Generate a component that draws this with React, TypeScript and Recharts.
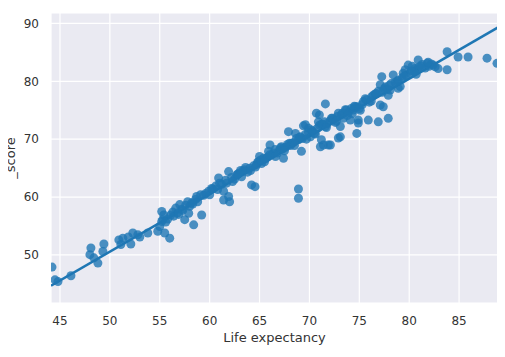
import React from 'react';
import { ComposedChart, Scatter, Line, XAxis, YAxis, CartesianGrid } from 'recharts';

const lifeExpectancy: number[] = [
  44.2, 44.5, 44.8, 46.1, 48.1, 48.0, 48.4, 48.8, 49.4, 49.3, 50.9, 51.3, 51.1, 52.1, 52.3, 52.8, 53.0, 51.85, 53.8, 54.8,
  55.0, 55.2, 55.3, 55.5, 55.4, 55.2, 56.0, 56.4, 57.0, 57.5, 57.9, 58.2, 58.4, 58.7, 59.2, 59.4, 59.9, 60.0, 60.9, 61.0,
  61.4, 61.4, 61.9, 62.0, 61.9, 61.7, 62.7, 63.2, 63.5, 64.2, 64.0, 64.7, 65.0, 64.55, 64.9, 65.4, 65.9, 66.05, 66.55, 67.2,
  67.4, 67.9, 68.2, 68.6, 68.9, 69.2, 69.6, 69.9, 68.9, 68.9, 70.1, 70.7, 71.1, 71.2, 71.9, 71.6, 71.6, 72.2, 73.1, 72.9,
  73.6, 74.1, 74.6, 74.75, 69.4, 71.0, 70.9, 71.4, 72.1, 72.9, 73.1, 73.7, 74.2, 74.9, 75.4, 76.25, 77.1, 77.9, 78.9, 79.4,
  80.6, 74.4, 74.9, 75.9, 76.4, 76.9, 77.25, 77.1, 77.4, 77.9, 78.1, 78.4, 78.9, 79.1, 79.6, 79.9, 80.9, 80.8, 81.8, 82.4,
  82.9, 83.8, 83.8, 84.9, 85.9, 87.8, 88.8,
  55.8, 56.3, 56.8, 57.2, 57.6, 58.0, 58.6, 59.6, 60.3, 60.6, 61.2, 62.2, 62.5, 62.9, 63.3, 63.8, 64.4, 64.8, 65.2, 65.6,
  65.8, 66.2, 66.4, 66.8, 67.0, 67.3, 67.6, 67.8, 68.1, 68.4, 68.7, 69.0, 69.3, 69.6, 69.9, 70.3, 70.5, 70.8, 71.0, 71.3,
  71.5, 71.8, 72.1, 72.4, 72.6, 72.8, 73.2, 73.4, 73.9, 74.3, 74.8, 75.1, 75.3, 75.7, 76.0, 76.6, 76.9, 77.3, 77.6, 77.8,
  78.2, 78.6, 79.3, 79.7, 80.1, 80.3, 80.5, 81.0, 81.3, 81.6, 82.0, 82.2,
  55.6, 56.1, 56.6, 57.3, 57.8, 58.8, 59.1, 60.2, 60.8, 61.6, 62.3, 62.8, 63.1, 63.6, 64.1, 64.6, 65.1, 65.5, 66.0, 66.6,
  67.1, 67.5, 68.0, 68.5, 69.1, 69.7, 70.2, 70.6, 71.2, 71.7, 72.3, 72.7, 73.3, 73.8, 74.5, 75.0, 75.6, 76.2, 76.7, 77.5,
  78.0, 78.8, 79.5, 80.2, 80.7, 81.2, 81.9, 82.6, 56.9, 58.3,
];

const score: number[] = [
  47.9, 45.7, 45.4, 46.4, 51.2, 50.05, 49.5, 48.6, 51.9, 50.6, 52.6, 52.9, 51.8, 51.9, 53.8, 53.5, 53.1, 53.1, 53.8, 54.1,
  54.9, 57.5, 56.1, 53.8, 56.9, 55.8, 52.9, 56.7, 58.7, 56.1, 57.2, 59.0, 55.2, 60.1, 56.9, 60.3, 61.0, 60.4, 63.3, 62.4,
  61.0, 59.5, 60.1, 59.2, 64.4, 62.4, 63.8, 63.5, 64.7, 62.1, 65.0, 65.6, 67.0, 61.8, 66.1, 66.7, 67.9, 69.0, 68.2, 68.7,
  66.7, 71.3, 69.3, 71.0, 69.9, 67.9, 72.5, 71.9, 61.4, 59.8, 70.4, 74.5, 68.7, 69.9, 69.0, 76.1, 72.2, 73.6, 70.4, 74.5,
  75.1, 73.3, 75.6, 71.0, 72.3, 74.2, 73.0, 69.0, 69.0, 70.2, 72.2, 75.05, 75.3, 72.8, 76.5, 77.35, 75.9, 77.6, 78.8, 81.4,
  82.2, 75.05, 73.3, 73.3, 77.6, 73.0, 80.8, 79.4, 75.6, 73.6, 78.5, 81.1, 80.2, 79.1, 82.0, 82.8, 83.7, 82.0, 83.1, 82.8,
  82.2, 82.0, 85.1, 84.2, 84.2, 84.0, 83.1,
  56.2, 57.4, 57.3, 57.9, 58.6, 58.4, 59.6, 60.6, 61.4, 61.9, 62.2, 63.4, 63.1, 64.1, 64.5, 64.3, 65.4, 66.0, 65.8, 66.6,
  66.9, 67.3, 67.6, 67.6, 68.1, 68.3, 68.6, 69.1, 68.9, 69.4, 70.1, 70.3, 70.1, 70.8, 71.2, 71.4, 71.0, 71.9, 72.4, 72.6,
  73.0, 72.7, 73.2, 73.4, 72.9, 73.9, 74.2, 73.6, 74.6, 74.4, 75.6, 75.0, 76.0, 76.8, 76.4, 77.8, 78.3, 78.1, 79.0, 78.6,
  79.6, 79.8, 80.6, 81.0, 81.4, 82.6, 81.7, 82.5, 82.9, 82.3, 82.6, 83.0,
  55.7, 56.9, 58.1, 57.7, 59.2, 59.2, 60.4, 61.5, 61.3, 62.9, 62.7, 63.9, 64.6, 65.1, 64.6, 65.2, 66.4, 66.1, 67.3, 67.0,
  68.5, 68.0, 69.3, 68.9, 70.4, 70.0, 71.6, 70.9, 72.6, 72.0, 73.6, 73.1, 74.5, 74.1, 75.7, 75.3, 77.0, 76.6, 77.9, 78.7,
  79.3, 80.0, 80.9, 81.8, 81.2, 82.6, 83.3, 82.5, 57.0, 58.8,
];

const fitX: number[] = [44.1, 88.9];
const fitY: number[] = [44.7, 89.3];

const xTicks: number[] = [45, 50, 55, 60, 65, 70, 75, 80, 85];
const yTicks: number[] = [50, 60, 70, 80, 90];

const points = lifeExpectancy.map((x, i) => ({ x, y: score[i] }));
const fitLine = fitX.map((x, i) => ({ x, y: fitY[i] }));

const BLUE = '#1f77b4';
const TEXT = '#333333';
const FONT = '"DejaVu Sans", sans-serif';

const Dot = (props: any) => {
  const { cx, cy } = props;
  if (cx == null || cy == null) return null;
  return <circle cx={cx} cy={cy} r={4.5} fill={BLUE} fillOpacity={0.8} />;
};

const YLabel = (props: any) => {
  const vb = props.viewBox || { y: 13, height: 290 };
  const cy = vb.y + vb.height / 2;
  const cx = 10;
  return (
    <text
      x={cx}
      y={cy}
      transform={`rotate(-90 ${cx} ${cy})`}
      textAnchor="middle"
      dominantBaseline="central"
      fill={TEXT}
      fontSize={13}
      fontFamily={FONT}
    >
      _score
    </text>
  );
};

export default function App() {
  return (
    <div style={{ margin: -8, width: 505, height: 357, background: '#fff' }}>
      <ComposedChart width={505} height={357} margin={{ top: 13, right: 7, left: 0, bottom: 0 }}>
        <CartesianGrid fill="#EAEAF2" stroke="#ffffff" strokeWidth={1.2} />
        <XAxis
          dataKey="x"
          type="number"
          domain={[44.1, 88.9]}
          ticks={xTicks}
          allowDataOverflow
          height={54}
          axisLine={false}
          tickLine={false}
          tickSize={0}
          tickMargin={13}
          tick={{ fill: TEXT, fontSize: 12, fontFamily: FONT }}
          label={{ value: 'Life expectancy', position: 'insideBottom', offset: 15, fill: TEXT, fontSize: 13, fontFamily: FONT }}
        />
        <YAxis
          dataKey="y"
          type="number"
          domain={[41.7, 91.8]}
          ticks={yTicks}
          allowDataOverflow
          width={51}
          axisLine={false}
          tickLine={false}
          tickSize={0}
          tickMargin={12}
          tick={{ fill: TEXT, fontSize: 12, fontFamily: FONT }}
          label={<YLabel />}
        />
        <Scatter data={points} shape={<Dot />} isAnimationActive={false} />
        <Line
          data={fitLine}
          dataKey="y"
          type="linear"
          stroke={BLUE}
          strokeWidth={2.6}
          dot={false}
          activeDot={false}
          isAnimationActive={false}
        />
      </ComposedChart>
    </div>
  );
}
